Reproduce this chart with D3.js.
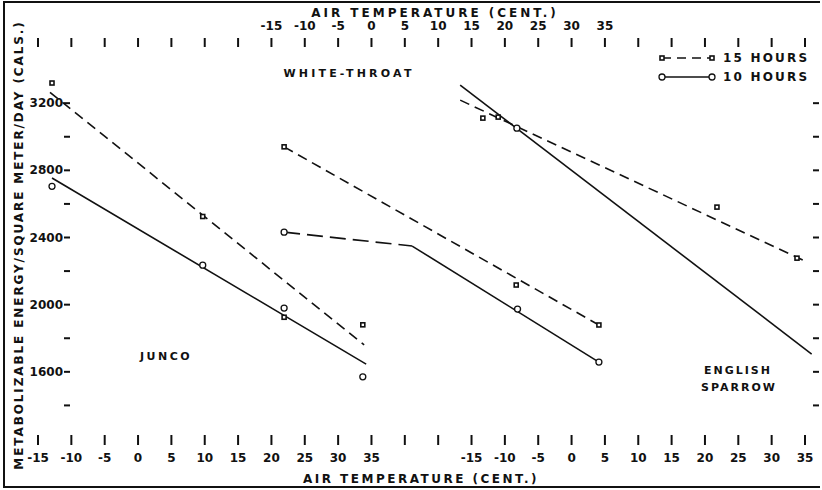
<!DOCTYPE html>
<html>
<head>
<meta charset="utf-8">
<script src="https://cdn.jsdelivr.net/npm/d3@7"></script>
<style>
  body { margin: 0; background: #fff; }
  svg { display: block; }
  text { font-family: 'DejaVu Sans', sans-serif; font-weight: bold; fill: #111; }
</style>
</head>
<body>
<div id="chart"></div>
<script>
// junco, bottom left temperature scale
var juncoTemp15 = [-12.9, 9.7, 21.9, 33.7]
var junco15 = [3320, 2525, 1925, 1880]
var juncoTemp10 = [-12.9, 9.7, 21.9, 33.7]
var junco10 = [2705, 2235, 1980, 1570]
var juncoFit15 = [[-13.2, 3265], [33.9, 1760]]
var juncoFit10 = [[-12.9, 2754], [34.2, 1646]]

// white-throat, top temperature scale
var wtTemp15 = [-13.1, 21.7, 34.1]
var wt15 = [2940, 2117, 1879]
var wtTemp10 = [-13.1, 21.9, 34.1]
var wt10 = [2432, 1974, 1658]
var wtFit15 = [[-13.1, 2940], [34.1, 1879]]
var wtFit10a = [[-13.1, 2432], [6.1, 2349]]
var wtFit10b = [[6.1, 2349], [34.1, 1658]]

// english sparrow, bottom right temperature scale
var spTemp15 = [-13.3, -11, 21.8, 33.8]
var sp15 = [3111, 3117, 2581, 2277]
var spTemp10 = [-8.2]
var sp10 = [3051]
var spFit15 = [[-16.7, 3218], [35.3, 2254]]
var spFit10 = [[-16.7, 3307], [36, 1706]]

var tempLabels = [-15, -10, -5, 0, 5, 10, 15, 20, 25, 30, 35]
var energyTicks = [1400, 1600, 1800, 2000, 2200, 2400, 2600, 2800, 3000, 3200]
var energyLabels = [1600, 2000, 2400, 2800, 3200]

var width = 822, height = 490

var svg = d3.select('#chart').append('svg')
  .attr('width', width).attr('height', height)

// one continuous strip, three offset temperature scales on it
var xJ = d3.scaleLinear().domain([-15, 100]).range([38, 805])
var xW = d3.scaleLinear().domain([-50, 65]).range([38, 805])
var xS = d3.scaleLinear().domain([-80, 35]).range([38, 805])
var y = d3.scaleLinear().domain([1200, 3600]).range([439, 36])

// frame
svg.append('path')
  .attr('d', 'M' + [820, 2] + 'H4V487H820')
  .attr('fill', 'none').attr('stroke', '#111').attr('stroke-width', 2)

var tickPos = d3.range(-15, 101, 5)

svg.append('g').selectAll('line').data(tickPos).join('line')
  .attr('x1', d => xJ(d)).attr('x2', d => xJ(d))
  .attr('y1', 38).attr('y2', 47)
  .attr('stroke', '#111').attr('stroke-width', 2)

svg.append('g').selectAll('line').data(tickPos).join('line')
  .attr('x1', d => xJ(d)).attr('x2', d => xJ(d))
  .attr('y1', 435).attr('y2', 445)
  .attr('stroke', '#111').attr('stroke-width', 2)

// top labels (white-throat)
svg.append('g').selectAll('text').data(tempLabels).join('text')
  .attr('x', d => xW(d)).attr('y', 30)
  .attr('text-anchor', 'middle').attr('font-size', 12)
  .text(d => d)

// bottom labels (junco, sparrow)
svg.append('g').selectAll('text').data(tempLabels).join('text')
  .attr('x', d => xJ(d)).attr('y', 462)
  .attr('text-anchor', 'middle').attr('font-size', 12)
  .text(d => d)

svg.append('g').selectAll('text').data(tempLabels).join('text')
  .attr('x', d => xS(d)).attr('y', 462)
  .attr('text-anchor', 'middle').attr('font-size', 12)
  .text(d => d)

// energy ticks left + right
svg.append('g').selectAll('line').data(energyTicks).join('line')
  .attr('x1', 64).attr('x2', 70)
  .attr('y1', d => y(d)).attr('y2', d => y(d))
  .attr('stroke', '#111').attr('stroke-width', 2)

svg.append('g').selectAll('line').data(energyTicks).join('line')
  .attr('x1', 813).attr('x2', 819)
  .attr('y1', d => y(d)).attr('y2', d => y(d))
  .attr('stroke', '#111').attr('stroke-width', 2)

svg.append('g').selectAll('text').data(energyLabels).join('text')
  .attr('x', 63).attr('y', d => y(d) + 4)
  .attr('text-anchor', 'end').attr('font-size', 12)
  .text(d => d)

// axis titles
svg.append('text')
  .attr('x', 435).attr('y', 17)
  .attr('text-anchor', 'middle').attr('font-size', 12)
  .style('letter-spacing', '3px')
  .text('AIR TEMPERATURE (CENT.)')

svg.append('text')
  .attr('x', 421).attr('y', 483)
  .attr('text-anchor', 'middle').attr('font-size', 12)
  .style('letter-spacing', '2.5px')
  .text('AIR TEMPERATURE (CENT.)')

svg.append('text')
  .attr('transform', 'translate(23,245) rotate(-90)')
  .attr('text-anchor', 'middle').attr('font-size', 12)
  .style('letter-spacing', '1.9px')
  .text('METABOLIZABLE ENERGY/SQUARE METER/DAY (CALS.)')

// species labels
function label(str, x, yy, sp){
  svg.append('text').attr('x', x).attr('y', yy)
    .attr('text-anchor', 'middle').attr('font-size', 11)
    .style('letter-spacing', sp + 'px')
    .text(str)
}
label('WHITE-THROAT', 349, 77, 3.2)
label('JUNCO', 166, 360, 2.5)
label('ENGLISH', 738, 374, 2)
label('SPARROW', 739, 391, 2)

// fitted lines
function fit(pts, xs, dashed){
  svg.append('path')
    .attr('d', d3.line().x(d => xs(d[0])).y(d => y(d[1]))(pts))
    .attr('fill', 'none').attr('stroke', '#111').attr('stroke-width', 1.6)
    .attr('stroke-dasharray', dashed || null)
}
fit(juncoFit15, xJ, '10,6')
fit(juncoFit10, xJ)
fit(wtFit15, xW, '10,6')
fit(wtFit10a, xW, '16,7')
fit(wtFit10b, xW)
fit(spFit15, xS, '10,6')
fit(spFit10, xS)

// observed points
function squares(temps, vals, xs){
  svg.append('g').selectAll('rect').data(temps).join('rect')
    .attr('x', d => xs(d) - 2).attr('y', (d, i) => y(vals[i]) - 2)
    .attr('width', 4).attr('height', 4)
    .attr('fill', '#fff').attr('stroke', '#111').attr('stroke-width', 1.6)
}
function circles(temps, vals, xs){
  svg.append('g').selectAll('circle').data(temps).join('circle')
    .attr('cx', d => xs(d)).attr('cy', (d, i) => y(vals[i]))
    .attr('r', 3)
    .attr('fill', '#fff').attr('stroke', '#111').attr('stroke-width', 1.3)
}
squares(juncoTemp15, junco15, xJ)
circles(juncoTemp10, junco10, xJ)
squares(wtTemp15, wt15, xW)
circles(wtTemp10, wt10, xW)
squares(spTemp15, sp15, xS)
circles(spTemp10, sp10, xS)

// legend
var legend = [
  {text: '15 HOURS', dash: '9,6', mark: 'square', y: 58},
  {text: '10 HOURS', dash: null, mark: 'circle', y: 77}
]
var lg = svg.append('g').selectAll('g').data(legend).join('g')
  .attr('transform', d => 'translate(0,' + d.y + ')')

lg.append('line')
  .attr('x1', 662).attr('x2', 712)
  .attr('stroke', '#111').attr('stroke-width', 1.6)
  .attr('stroke-dasharray', d => d.dash)

lg.filter(d => d.mark == 'circle').selectAll('circle').data([662, 712]).join('circle')
  .attr('cx', d => d).attr('r', 3)
  .attr('fill', '#fff').attr('stroke', '#111').attr('stroke-width', 1.3)

lg.filter(d => d.mark == 'square').selectAll('rect').data([662, 712]).join('rect')
  .attr('x', d => d - 2).attr('y', -2).attr('width', 4).attr('height', 4)
  .attr('fill', '#fff').attr('stroke', '#111').attr('stroke-width', 1.6)

lg.append('text')
  .attr('x', 723).attr('y', 4).attr('font-size', 12)
  .style('letter-spacing', '2.2px')
  .text(d => d.text)
</script>
</body>
</html>
